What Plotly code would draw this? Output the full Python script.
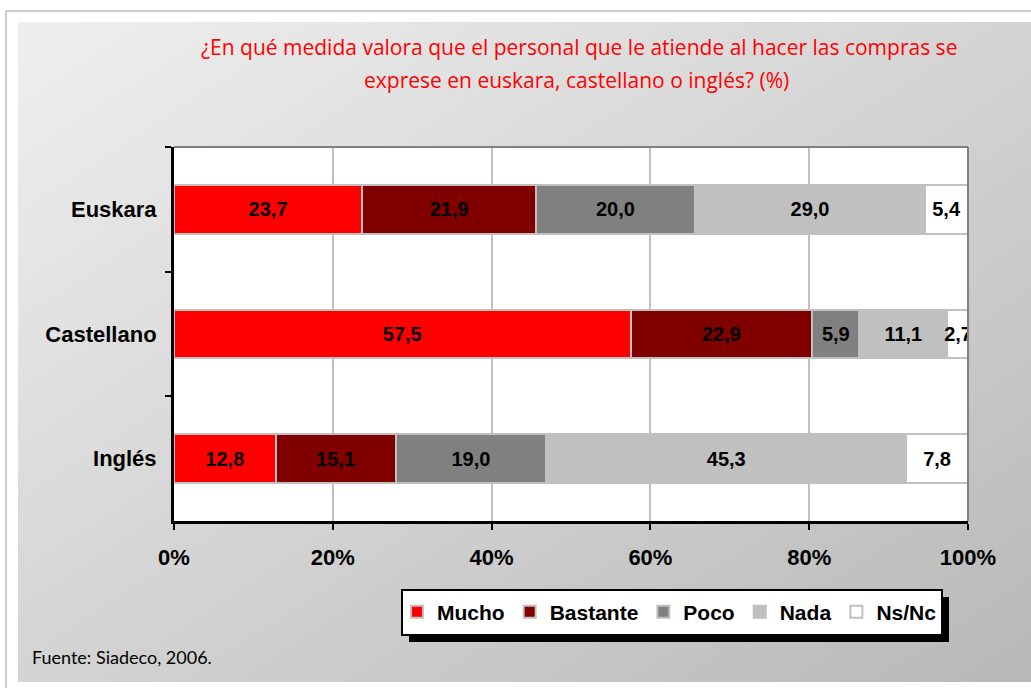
import base64
import plotly.graph_objects as go

# ---- data ----
categories = ["Euskara", "Castellano", "Inglés"]
series_names = ["Mucho", "Bastante", "Poco", "Nada", "Ns/Nc"]
mucho = [23.7, 57.5, 12.8]
bastante = [21.9, 22.9, 15.1]
poco = [20.0, 5.9, 19.0]
nada = [29.0, 11.1, 45.3]
nsnc = [5.4, 2.7, 7.8]
series_values = [mucho, bastante, poco, nada, nsnc]
x_ticks = [0, 20, 40, 60, 80, 100]
x_tick_labels = ["0%", "20%", "40%", "60%", "80%", "100%"]

title_line1 = "¿En qué medida valora que el personal que le atiende al hacer las compras se"
title_line2 = "exprese en euskara, castellano o inglés? (%)"
source_text = "Fuente: Siadeco, 2006."

colors = ["#FF0000", "#800000", "#808080", "#C0C0C0", "#FFFFFF"]

W, H = 1031, 688
L, R, T, B = 174, 968, 147, 521  # plot area in pixels


def px(x):
    return (x - L) / (R - L)


def py(y):
    return (B - y) / (B - T)


fig = go.Figure()
for name, vals, col in zip(series_names, series_values, colors):
    fig.add_trace(go.Bar(
        name=name, y=categories, x=vals, orientation="h",
        width=0.39,
        marker=dict(color=col, line=dict(color="#C0C0C0", width=2)),
        texttemplate="%{x:.1f}", textposition="inside",
        insidetextanchor="middle", textangle=0,
        textfont=dict(family="Liberation Sans, Arial", size=20, color="black", weight="bold"),
        hoverinfo="skip",
    ))

svg = ("<svg xmlns='http://www.w3.org/2000/svg' width='1013' height='660' preserveAspectRatio='none'>"
       "<defs><linearGradient id='g' x1='0' y1='0' x2='1' y2='1'>"
       "<stop offset='0' stop-color='#efefef'/><stop offset='1' stop-color='#b8b8b8'/>"
       "</linearGradient></defs><rect width='1013' height='660' fill='url(#g)'/></svg>")
src = "data:image/svg+xml;base64," + base64.b64encode(svg.encode()).decode()

fig.add_layout_image(dict(
    source=src, xref="paper", yref="paper",
    x=px(18), y=py(22), sizex=px(1031) - px(18), sizey=py(22) - py(682),
    xanchor="left", yanchor="top", sizing="stretch", layer="below",
))

shapes = [
    dict(type="rect", xref="paper", yref="paper", x0=px(6), x1=px(1040), y0=py(11), y1=py(700),
         line=dict(color="#CCCCCC", width=2), fillcolor="rgba(0,0,0,0)", layer="below"),
    dict(type="rect", xref="paper", yref="paper", x0=0, x1=1, y0=0, y1=1,
         line=dict(width=0), fillcolor="white", layer="below"),
    dict(type="line", xref="paper", yref="paper", x0=0, x1=1, y0=1, y1=1,
         line=dict(color="#808080", width=2), layer="above"),
    dict(type="line", xref="paper", yref="paper", x0=1, x1=1, y0=0, y1=1,
         line=dict(color="#808080", width=2), layer="above"),
    dict(type="rect", xref="paper", yref="paper", x0=px(409), x1=px(949), y0=py(597), y1=py(642),
         line=dict(width=0), fillcolor="black", layer="above"),
    dict(type="rect", xref="paper", yref="paper", x0=px(402), x1=px(942), y0=py(590), y1=py(635),
         line=dict(color="black", width=2), fillcolor="white", layer="above"),
]

fig.update_layout(
    width=W, height=H,
    margin=dict(l=L, r=W - R, t=T, b=H - B, pad=0),
    paper_bgcolor="white", plot_bgcolor="rgba(0,0,0,0)",
    barmode="stack", separators=",.",
    showlegend=True,
    legend=dict(orientation="h", x=px(397), y=py(612), xanchor="left", yanchor="middle",
                bgcolor="rgba(0,0,0,0)", borderwidth=0, traceorder="normal",
                font=dict(family="Liberation Sans, Arial", size=21, color="black", weight="bold")),
    uniformtext=dict(minsize=20, mode="show"),
    shapes=shapes,
    xaxis=dict(range=[0, 100], tickvals=x_ticks, ticktext=x_tick_labels,
               showgrid=True, gridcolor="#C0C0C0", gridwidth=2, zeroline=False,
               showline=True, linecolor="black", linewidth=3,
               ticks="outside", ticklen=6, tickwidth=2, tickcolor="black",
               ticklabelstandoff=9,
               tickfont=dict(family="Liberation Sans, Arial", size=22, color="black", weight="bold"),
               fixedrange=True),
    yaxis=dict(categoryorder="array", categoryarray=categories, autorange="reversed",
               showgrid=False, zeroline=False,
               showline=True, linecolor="black", linewidth=3,
               ticks="outside", ticklen=6, tickwidth=2, tickcolor="black", tickson="boundaries",
               ticklabelstandoff=10,
               tickfont=dict(family="Liberation Sans, Arial", size=22, color="black", weight="bold"),
               fixedrange=True),
    annotations=[
        dict(text=title_line1, xref="paper", yref="paper", x=px(579), y=py(47),
             xanchor="center", yanchor="middle", showarrow=False,
             font=dict(family="Open Sans, sans-serif", size=21, color="#FF0000")),
        dict(text=title_line2, xref="paper", yref="paper", x=px(576), y=py(80),
             xanchor="center", yanchor="middle", showarrow=False,
             font=dict(family="Open Sans, sans-serif", size=21, color="#FF0000")),
        dict(text=source_text, xref="paper", yref="paper", x=px(30), y=py(657),
             xanchor="left", yanchor="middle", showarrow=False,
             font=dict(family="Lato, sans-serif", size=18, color="black")),
    ],
)

fig.write_html("out.html", config={"displayModeBar": False},
               post_script="document.body.style.margin='0px';")
